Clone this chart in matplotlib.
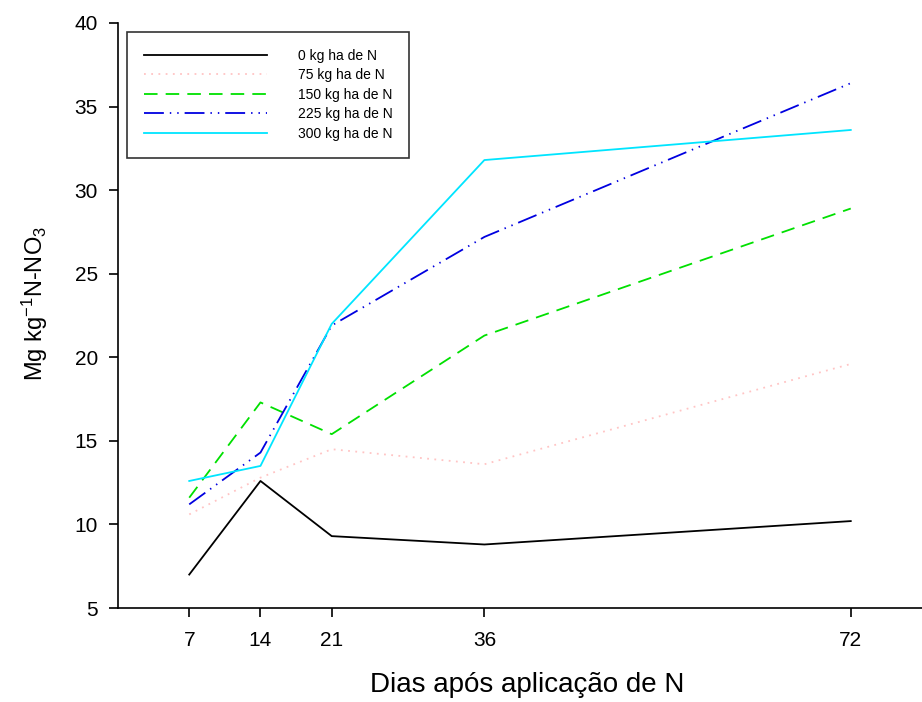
import matplotlib
matplotlib.use("Agg")
import matplotlib.pyplot as plt

plt.rcParams['font.family'] = ['Liberation Sans', 'DejaVu Sans']
plt.rcParams['mathtext.default'] = 'regular'

days = [7, 14, 21, 36, 72]
labels = ["0 kg ha de N", "75 kg ha de N", "150 kg ha de N", "225 kg ha de N", "300 kg ha de N"]
n0 = [7.0, 12.6, 9.3, 8.8, 10.2]
n75 = [10.6, 12.8, 14.5, 13.6, 19.6]
n150 = [11.6, 17.3, 15.4, 21.3, 28.9]
n225 = [11.2, 14.3, 21.9, 27.2, 36.4]
n300 = [12.6, 13.5, 22.0, 31.8, 33.6]
yticks = [5, 10, 15, 20, 25, 30, 35, 40]

fig = plt.figure(figsize=(9.22, 7.02), dpi=100)
ax = fig.add_axes([118/922, 1-608/702, 1-118/922, (608-23)/702])

ax.plot(days, n0, color='black', lw=1.3, label=labels[0])
ax.plot(days, n75, color='#ffc4c4', lw=1.3, ls=(0, (1, 3)), label=labels[1])
ax.plot(days, n150, color='#00e000', lw=1.3, ls=(0, (7.5, 4.5)), label=labels[2])
ax.plot(days, n225, color='#0000e0', lw=1.3, ls=(0, (11, 3.3, 0.8, 3.3, 0.8, 3.3)), label=labels[3])
ax.plot(days, n300, color='#00e5ff', lw=1.3, label=labels[4])

ax.set_xlim(0, 79)
ax.set_ylim(5, 40)
ax.set_xticks(days)
ax.set_yticks(yticks)
ax.spines['top'].set_visible(False)
ax.spines['right'].set_visible(False)
ax.tick_params(direction='out', length=6.5, width=1.2, labelsize=15, pad=8)
ax.tick_params(axis='x', pad=10)
ax.spines['left'].set_linewidth(1.2)
ax.spines['bottom'].set_linewidth(1.2)

ax.set_xlabel("Dias após aplicação de N", fontsize=20)
ax.xaxis.set_label_coords(0.509, -0.110)
ax.set_ylabel("Mg kg$^{\\mathregular{-1}}$N-NO$_3$", fontsize=17)
ax.yaxis.set_label_coords(-0.084, 0.52)

leg = ax.legend(loc='upper left', bbox_to_anchor=(9/804, 1-9/585), fontsize=10,
                frameon=True, fancybox=False, edgecolor='black', handlelength=8.9,
                handletextpad=2.2, borderpad=1.2, labelspacing=0.4, borderaxespad=0)
leg.get_frame().set_linewidth(1.2)

fig.savefig("out.png", dpi=100)
